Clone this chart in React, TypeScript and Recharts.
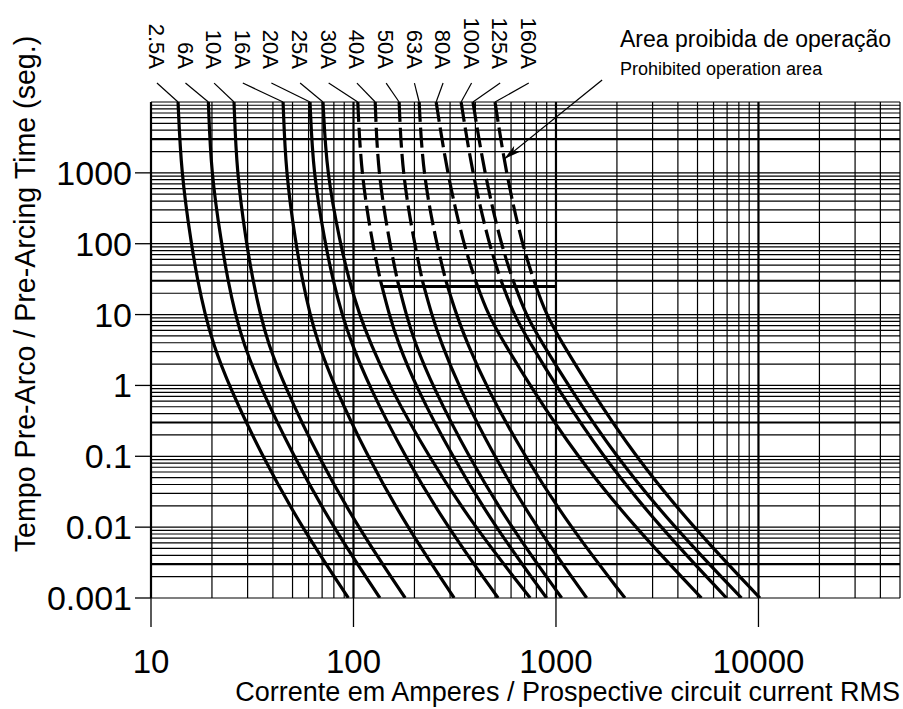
import { LineChart, Line, XAxis, YAxis, ReferenceLine, ReferenceDot } from "recharts";

const FONT = '"Liberation Sans", Arial, Helvetica, sans-serif';

// pre-arcing time (s) at which each curve is read
const times = [10000, 1000, 100, 30, 10, 4, 1, 0.1, 0.01, 0.001];

// prospective current (A) for each rating, one value per entry of `times`
const fuse2_5A = [13.6, 14.1, 15.8, 17.0, 18.5, 20.2, 24.2, 35.4, 55.4, 94.3];
const fuse6A = [19.2, 19.8, 22.3, 24.0, 26.1, 28.6, 34.3, 50.6, 79.2, 135];
const fuse10A = [25.7, 26.5, 29.6, 31.9, 34.7, 37.8, 45.5, 66.7, 105, 180];
const fuse16A = [44.9, 46.3, 51.9, 56.0, 61.0, 66.8, 80.1, 117, 184, 314];
const fuse20A = [61.0, 63.2, 72.5, 79.3, 87.8, 97.6, 119, 179, 291, 518];
const fuse25A = [70.7, 73.7, 86.1, 95.3, 107, 121, 150, 234, 397, 746];
const fuse30A = [105, 109, 124, 136, 150, 166, 202, 307, 501, 899];
const fuse40A = [128, 132, 151, 165, 182, 201, 245, 369, 599, 1067];
const fuse50A = [168, 174, 200, 219, 243, 271, 329, 494, 799, 1418];
const fuse63A = [211, 220, 257, 286, 322, 364, 449, 699, 1177, 2191];
const fuse80A = [256, 290, 349, 401, 461, 554, 743, 1267, 2447, 5230];
const fuse100A = [340, 386, 466, 536, 618, 744, 998, 1695, 3263, 6949];
const fuse125A = [389, 443, 534, 615, 708, 853, 1149, 1967, 3826, 8243];
const fuse160A = [500, 566, 679, 779, 893, 1071, 1439, 2455, 4748, 10170];

const ratings = ["2.5A", "6A", "10A", "16A", "20A", "25A", "30A", "40A", "50A", "63A", "80A", "100A", "125A", "160A"];
const ampsByRating = [fuse2_5A, fuse6A, fuse10A, fuse16A, fuse20A, fuse25A, fuse30A, fuse40A, fuse50A, fuse63A, fuse80A, fuse100A, fuse125A, fuse160A];
// curves from 30A up are drawn dashed above 30 s
const firstDashed = 6;
const dashSplit = 30;

// where the rotated rating labels sit (current, time above the plot)
const labelAmps = [10.7, 14.8, 20.5, 28.4, 39.3, 54.5, 75.4, 104, 145, 200, 277, 383, 530, 734];
const labelTime = 18500;

// prohibited operation limit
const limitAmps = [138, 1000];
const limitTimes = [25, 25];

// arrow from the note to the 160A curve
const arrowAmps = [1690, 560];
const arrowTimes = [20400, 1600];

const xTicks = [10, 100, 1000, 10000];
const yTicks = [0.001, 0.01, 0.1, 1, 10, 100, 1000];
const thickX = [10, 100, 1000, 10000];
const thickY = [3000, 30, 0.3, 0.003];

const xGrid: number[] = [];
for (let e = 1; e <= 4; e++) for (let m = 1; m <= 9; m++) if (m * 10 ** e <= 50000) xGrid.push(m * 10 ** e);
const yGrid: number[] = [];
for (let e = -3; e <= 3; e++) for (let m = 1; m <= 9; m++) yGrid.push(m * 10 ** e);
yGrid.push(10000);

const isIn = (v: number, list: number[]) => list.some((t) => Math.abs(v / t - 1) < 1e-6);

const curves = ratings.map((name, k) => {
  const pts = ampsByRating[k].map((a, j) => ({ i: a, t: times[j] })).sort((p, q) => p.i - q.i);
  const dashed = k >= firstDashed;
  return {
    name,
    dashed,
    upper: dashed ? pts.filter((p) => p.t >= dashSplit) : [],
    lower: dashed ? pts.filter((p) => p.t <= dashSplit) : pts,
  };
});

const limitData = limitAmps.map((a, j) => ({ i: a, t: limitTimes[j] }));

export default function App() {
  return (
    <div style={{ position: "absolute", left: 0, top: 0, width: 903, height: 709, background: "#fff", fontFamily: FONT }}>
      <LineChart width={903} height={709} margin={{ top: 102, right: 3, bottom: 11, left: 11 }}>
        <defs>
          <marker id="arrowHead" markerWidth="16" markerHeight="8" refX="15" refY="4" orient="auto" markerUnits="userSpaceOnUse">
            <path d="M0,0 L16,4 L0,8 L4,4 z" fill="#000" />
          </marker>
        </defs>
        <XAxis
          type="number"
          dataKey="i"
          scale="log"
          domain={[10, 50000]}
          allowDataOverflow
          ticks={xTicks}
          interval={0}
          height={100}
          tickSize={29}
          tickMargin={23}
          axisLine={false}
          tickLine={{ stroke: "#000", strokeWidth: 1.3 }}
          tick={{ fontSize: 33, fill: "#000", fontFamily: FONT }}
          label={() => (
            <text x={900} y={701} textAnchor="end" fontSize={27} fill="#000" fontFamily={FONT}>
              Corrente em Amperes / Prospective circuit current RMS
            </text>
          )}
        />
        <YAxis
          type="number"
          scale="log"
          domain={[0.001, 10000]}
          allowDataOverflow
          ticks={yTicks}
          interval={0}
          width={140}
          tickSize={16}
          tickMargin={3}
          axisLine={false}
          tickLine={{ stroke: "#000", strokeWidth: 1.3 }}
          tick={{ fontSize: 34, fill: "#000", fontFamily: FONT }}
          tickFormatter={(v: number) => String(v)}
          label={() => (
            <text transform="translate(35,294) rotate(-90)" textAnchor="middle" fontSize={28.6} fill="#000" fontFamily={FONT}>
              Tempo Pre-Arco / Pre-Arcing Time (seg.)
            </text>
          )}
        />

        {yGrid.map((v) => (
          <ReferenceLine key={"y" + v} y={v} stroke="#000" strokeWidth={isIn(v, thickY) ? 2.2 : 1.2} />
        ))}
        {xGrid.map((v) => (
          <ReferenceLine key={"x" + v} x={v} stroke="#000" strokeWidth={isIn(v, thickX) ? 2.2 : 1.2} />
        ))}

        {curves.map((c, k) => (
          <ReferenceLine
            key={"lead" + c.name}
            segment={[
              { x: labelAmps[k], y: labelTime },
              { x: ampsByRating[k][0], y: times[0] },
            ]}
            ifOverflow="visible"
            stroke="#000"
            strokeWidth={1.2}
          />
        ))}
        {curves.map((c, k) => (
          <ReferenceDot
            key={"lab" + c.name}
            x={labelAmps[k]}
            y={labelTime}
            r={0}
            ifOverflow="visible"
            fill="none"
            stroke="none"
            label={(p: any) => {
              const vb = p.viewBox || {};
              const x = (vb.x || 0) + (vb.width || 0) / 2;
              return (
                <text transform={`translate(${x},69) rotate(90)`} textAnchor="end" dy="0.36em" fontSize={22} fill="#000" fontFamily={FONT}>
                  {c.name}
                </text>
              );
            }}
          />
        ))}

        <ReferenceLine
          segment={[
            { x: arrowAmps[0], y: arrowTimes[0] },
            { x: arrowAmps[1], y: arrowTimes[1] },
          ]}
          ifOverflow="visible"
          stroke="#000"
          strokeWidth={1.3}
          markerEnd="url(#arrowHead)"
        />

        {curves.map((c) =>
          c.dashed ? (
            <Line
              key={"up" + c.name}
              data={c.upper}
              dataKey="t"
              type="basis"
              stroke="#000"
              strokeWidth={3.2}
              strokeDasharray="20 6"
              dot={false}
              activeDot={false}
              isAnimationActive={false}
            />
          ) : null
        )}
        {curves.map((c) => (
          <Line
            key={"lo" + c.name}
            data={c.lower}
            dataKey="t"
            type="basis"
            stroke="#000"
            strokeWidth={3.2}
            dot={false}
            activeDot={false}
            isAnimationActive={false}
          />
        ))}
        <Line data={limitData} dataKey="t" type="linear" stroke="#000" strokeWidth={3} dot={false} activeDot={false} isAnimationActive={false} />

        <text x={620} y={47} fontSize={23} fill="#000" fontFamily={FONT}>
          Area proibida de operação
        </text>
        <text x={620} y={75} fontSize={18} fill="#000" fontFamily={FONT}>
          Prohibited operation area
        </text>
      </LineChart>
    </div>
  );
}
